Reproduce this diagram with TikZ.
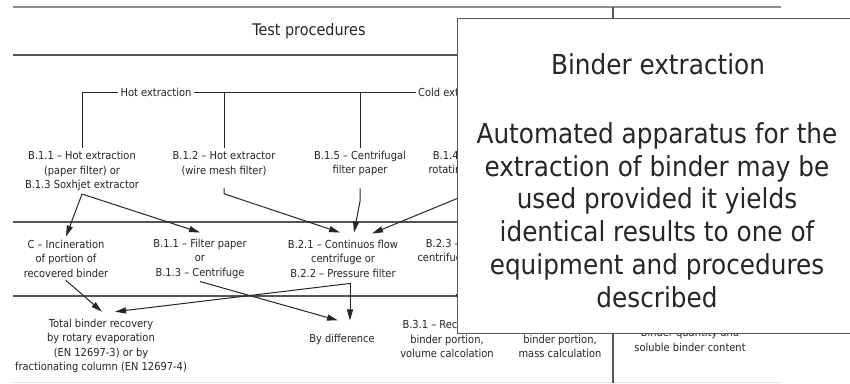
\documentclass[tikz,border=0pt]{standalone}
\usepackage{fontspec}
\setmainfont{DejaVu Sans Condensed}
\usetikzlibrary{arrows.meta,calc}

\definecolor{ink}{HTML}{262626}
\definecolor{rulec}{HTML}{555555}
\definecolor{lightrule}{HTML}{8c8c8c}
\definecolor{faint}{HTML}{e2e2e2}

\begin{document}
\begin{tikzpicture}[x=1pt,y=-1pt,
  lbl/.style={align=center, font=\fontsize{11}{14.5}\selectfont, text=ink, inner sep=3pt},
  tag/.style={font=\fontsize{11}{13}\selectfont, text=ink, inner sep=2pt},
  rulel/.style={draw=rulec, line width=1.6pt},
  link/.style={draw=ink, line width=0.9pt},
  conn/.style={draw=ink, line width=1pt, -{Triangle[length=11pt,width=6pt]}},
  notetext/.style={font=\fontsize{27.5}{32.8}\selectfont, text=ink, align=center},
]
\useasboundingbox (0,0) rectangle (850,383);
\fill[white] (0,0) rectangle (850,383);

% table rules
\draw[lightrule, line width=1.2pt] (13,7) -- (781,7);
\draw[faint, line width=1pt] (13,382) -- (781,382);
\draw[rulel] (613,7) -- (613,383);
\draw[rulel] (13,55) -- (613,55);
\draw[rulel] (13,222) -- (613,222);
\draw[rulel] (13,296) -- (613,296);

\node[font=\fontsize{16}{18}\selectfont, text=ink] (title) at (309,31) {Test procedures};

% first row: extraction methods
\node[lbl] (b11) at (82,171) {B.1.1 – Hot extraction\\(paper filter) or\\B.1.3 Soxhjet extractor};
\node[lbl] (b12) at (224,163.5) {B.1.2 – Hot extractor\\(wire mesh filter)};
\node[lbl] (b15) at (360,163.5) {B.1.5 – Centrifugal\\filter paper};
\node[lbl] (b14) at (487,163.5) {B.1.4 – Bottle rotation\\rotating bottle machine};

% grouping bracket
\node[tag] (hot) at (156,92) {Hot extraction};
\node[tag, anchor=west] (cold) at (416,92) {Cold extraction};
\draw[link] (b11.north) |- (hot.west);
\draw[link] (hot.east) -- (cold.west);
\draw[link] (b12.north) -- (b12.north |- hot.east);
\draw[link] (b15.north) -- (b15.north |- hot.east);

% second row: separation
\node[lbl] (c) at (66,258.5) {C – Incineration\\of portion of\\recovered binder};
\node[lbl] (b11f) at (200,258.5) {B.1.1 – Filter paper\\or\\B.1.3 – Centrifuge};
\node[lbl] (b21) at (343,258.5) {B.2.1 – Continuos flow\\centrifuge or\\B.2.2 – Pressure filter};
\node[lbl] (b23) at (467,251.5) {B.2.3 – Film type\\centrifuge extractor};

% third row: binder determination
\node[lbl] (total) at (101,346) {Total binder recovery\\by rotary evaporation\\(EN 12697-3) or by\\fractionating column (EN 12697-4)};
\node[lbl] (bydiff) at (342,339) {By difference};
\node[lbl] (b31) at (447,339) {B.3.1 – Recovered\\binder portion,\\volume calcolation};
\node[lbl] (b32) at (560,339) {B.3.2 – Recovered\\binder portion,\\mass calculation};
\node[lbl] (bq) at (690,340) {Binder quantity and\\soluble binder content};

% connectors row 1 -> row 2
\draw[conn] (b11.south) -- (c.north);
\draw[conn] (b11.south) -- ([yshift=3pt]b11f.north);
\draw[conn] ([yshift=-9pt]b12.south) -- ([yshift=-15pt]b12.south) -- ([xshift=-3pt,yshift=4pt]b21.north);
\draw[conn] ([yshift=-9pt]b15.south) -- ([yshift=-22pt]b15.south) -- ([xshift=11pt,yshift=4pt]b21.north);
\draw[conn] ([xshift=-5pt,yshift=-9pt]b14.south) -- ([xshift=29pt,yshift=3pt]b21.north);

% connectors row 2 -> row 3
\coordinate (j) at ([xshift=7pt,yshift=-3pt]b21.south);
\draw[conn] (c.south) -- ([xshift=1pt,yshift=4pt]total.north);
\draw[conn] (b11f.south) -- ([xshift=-4pt,yshift=10pt]bydiff.north);
\draw[conn] (j) -- ([xshift=8pt,yshift=10pt]bydiff.north);
\draw[conn] (j) -- ([xshift=14pt,yshift=4pt]total.north);
\draw[conn] ([xshift=-8pt]b23.south) -- ([xshift=12pt,yshift=12pt]b31.north);

% overlay note
\node[draw=rulec, line width=1.4pt, fill=white, anchor=north west,
      minimum width=403pt, minimum height=315pt, inner sep=0pt] (note) at (457,18) {};
\node[notetext] (notehead) at (658,64) {Binder extraction};
\node[notetext] (notebody) at (657,215) {Automated apparatus for the\\extraction of binder may be\\used provided it yields\\identical results to one of\\equipment and procedures\\described};
\end{tikzpicture}
\end{document}
